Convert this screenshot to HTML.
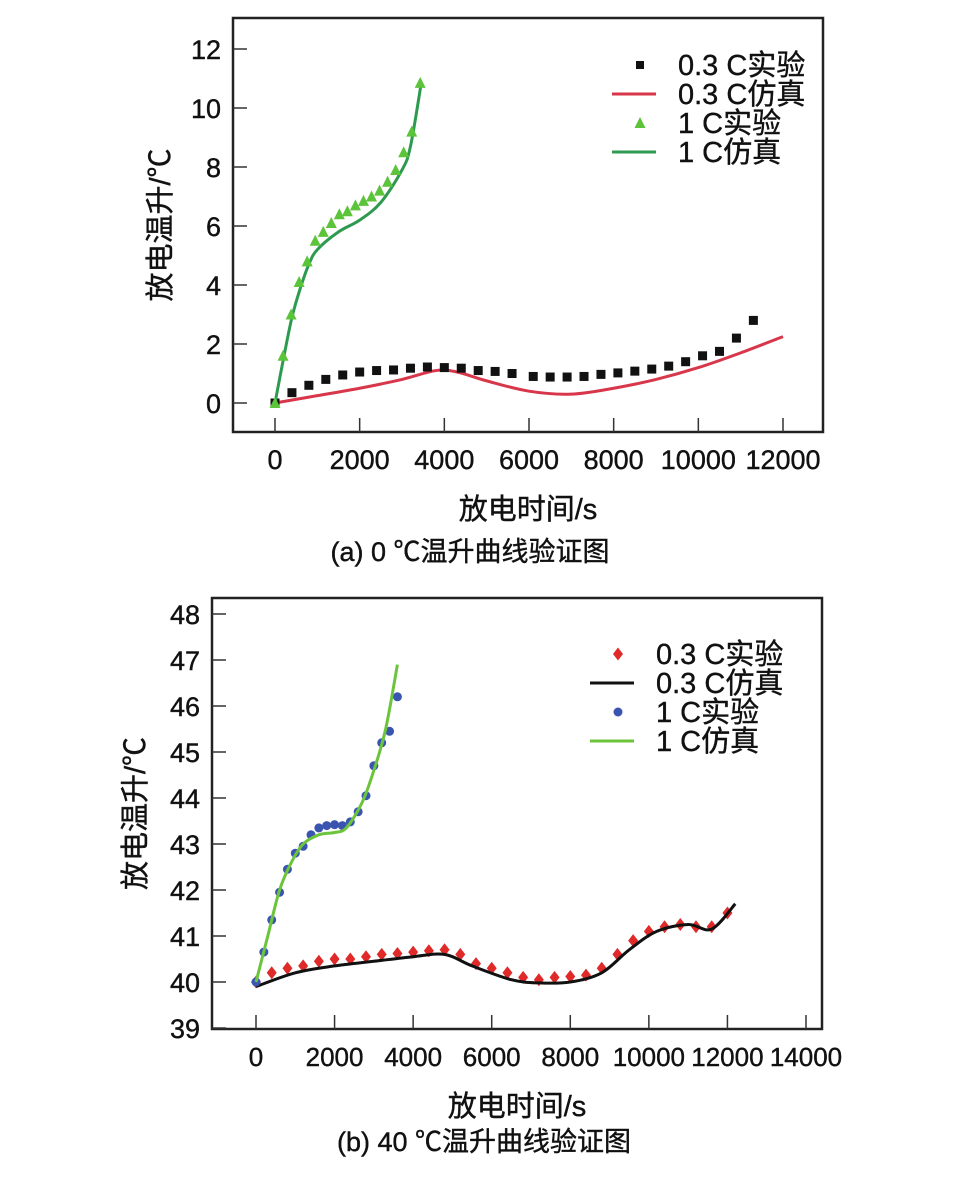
<!DOCTYPE html>
<html><head><meta charset="utf-8"><style>
body{margin:0;background:#fff;}
svg text{font-family:"Liberation Sans","Noto Sans CJK SC",sans-serif;fill:#111;stroke:#111;stroke-width:0.4;}
</style></head><body>
<svg id="s" width="971" height="1179" xmlns="http://www.w3.org/2000/svg"></svg>
<script>
// Chart (a) data
const aLowExpX=[0,400,800,1200,1600,2000,2400,2800,3200,3600,4000,4400,4800,5200,5600,6100,6500,6900,7300,7700,8100,8500,8900,9300,9700,10100,10500,10900,11300];
const aLowExpY=[0,0.35,0.6,0.8,0.95,1.05,1.1,1.12,1.18,1.22,1.2,1.18,1.1,1.07,1.0,0.9,0.88,0.88,0.9,0.97,1.02,1.08,1.15,1.25,1.4,1.6,1.75,2.2,2.8];
const aLowSimX=[0,1000,2000,3000,3800,4300,5000,6000,7000,8000,9000,10000,11000,12000];
const aLowSimY=[0,0.25,0.5,0.8,1.1,1.05,0.75,0.4,0.3,0.5,0.8,1.2,1.7,2.25];
const aHighExpX=[0,190,380,570,760,950,1140,1330,1520,1710,1900,2090,2280,2470,2660,2850,3040,3230,3430];
const aHighExpY=[0,1.6,3.0,4.1,4.8,5.5,5.8,6.1,6.4,6.5,6.7,6.85,7.0,7.2,7.5,7.9,8.5,9.2,10.85];
const aHighSimX=[0,200,400,600,800,1000,1500,2000,2500,3000,3200,3450];
const aHighSimY=[0,1.5,2.9,3.9,4.7,5.2,5.8,6.2,6.8,7.9,8.7,10.8];
const aXTicks=[0,2000,4000,6000,8000,10000,12000];
const aYTicks=[0,2,4,6,8,10,12];
// Chart (b) data
const bLowExpX=[0,400,800,1200,1600,2000,2400,2800,3200,3600,4000,4400,4800,5200,5600,6000,6400,6800,7200,7600,8000,8400,8800,9200,9600,10000,10400,10800,11200,11600,12000];
const bLowExpY=[40.0,40.2,40.3,40.35,40.45,40.5,40.5,40.55,40.6,40.62,40.65,40.68,40.7,40.6,40.4,40.3,40.2,40.1,40.05,40.1,40.12,40.15,40.3,40.6,40.9,41.1,41.2,41.25,41.2,41.2,41.5];
const bLowSimX=[0,1000,2000,3000,4000,4800,5500,6500,7200,8000,8800,9500,10200,11000,11600,12200];
const bLowSimY=[39.9,40.2,40.35,40.45,40.55,40.6,40.35,40.05,39.98,40.0,40.2,40.7,41.1,41.25,41.15,41.7];
const bHighExpX=[0,200,400,600,800,1000,1200,1400,1600,1800,2000,2200,2400,2600,2800,3000,3200,3400,3600];
const bHighExpY=[40.0,40.65,41.35,41.95,42.45,42.8,42.95,43.2,43.35,43.4,43.42,43.4,43.48,43.7,44.05,44.7,45.2,45.45,46.2];
const bHighSimX=[0,300,600,900,1200,1600,2000,2300,2700,3000,3300,3600];
const bHighSimY=[40.0,41.0,42.0,42.6,43.0,43.2,43.25,43.35,43.9,44.6,45.5,46.9];
const bXTicks=[0,2000,4000,6000,8000,10000,12000,14000];
const bYTicks=[39,40,41,42,43,44,45,46,47,48];

const NS="http://www.w3.org/2000/svg";
const svg=document.getElementById('s');
function mk(tag,attrs,parent,txt){const e=document.createElementNS(NS,tag);for(const k in attrs)e.setAttribute(k,attrs[k]);if(txt!==undefined)e.textContent=txt;(parent||svg).appendChild(e);return e;}
function smooth(pts){let d=`M${pts[0][0]},${pts[0][1]}`;for(let i=0;i<pts.length-1;i++){const p0=pts[i-1]||pts[i],p1=pts[i],p2=pts[i+1],p3=pts[i+2]||p2;const c1=[p1[0]+(p2[0]-p0[0])/6,p1[1]+(p2[1]-p0[1])/6],c2=[p2[0]-(p3[0]-p1[0])/6,p2[1]-(p3[1]-p1[1])/6];d+=` C${c1[0]},${c1[1]} ${c2[0]},${c2[1]} ${p2[0]},${p2[1]}`;}return d;}

function chart(cfg){
  const g=mk('g',{});
  
  
  const sx=v=>cfg.x0+(v-cfg.xmin)*(cfg.x1-cfg.x0)/(cfg.xmax-cfg.xmin);
  const sy=v=>cfg.y0+(v-cfg.ymin)*(cfg.y1-cfg.y0)/(cfg.ymax-cfg.ymin);
  const box=mk('rect',{x:cfg.bx,y:cfg.by,width:cfg.bw,height:cfg.bh,fill:'none',stroke:'#222','stroke-width':2.5},g);
  
  cfg.xt.forEach(v=>{
    const t=mk('line',{x1:sx(v),x2:sx(v),y1:cfg.by+cfg.bh,y2:cfg.by+cfg.bh-14,stroke:'#333','stroke-width':1.5},g);
    
    const l=mk('text',{x:sx(v),y:cfg.by+cfg.bh+37,'text-anchor':'middle','font-size':cfg.xfs},g,String(v));
    
  });
  cfg.yt.forEach(v=>{
    const t=mk('line',{x1:cfg.bx,x2:cfg.bx+14,y1:sy(v),y2:sy(v),stroke:'#333','stroke-width':1.5},g);
    
    const l=mk('text',{x:cfg.bx-12,y:sy(v)+10,'text-anchor':'end','font-size':27},g,String(v));
    
  });
  const line=(X,Y,col,nm)=>{const p=mk('path',{d:smooth(X.map((x,i)=>[sx(x),sy(Y[i])])),fill:'none',stroke:col,'stroke-width':3},g);
    };
  const marks=(X,Y,shape,col,nm)=>{X.forEach((x,i)=>{const px=sx(x),py=sy(Y[i]);let e;
    if(shape==='sq')e=mk('rect',{x:px-4.5,y:py-4.5,width:9,height:9,fill:col},g);
    else if(shape==='tri')e=mk('polygon',{points:`${px},${py-6} ${px-5.5},${py+5} ${px+5.5},${py+5}`,fill:col},g);
    else if(shape==='dia')e=mk('polygon',{points:`${px},${py-6.5} ${px+5},${py} ${px},${py+6.5} ${px-5},${py}`,fill:col},g);
    else e=mk('circle',{cx:px,cy:py,r:4.5,fill:col},g);
    });};
  cfg.draw(line,marks);
  cfg.legend.forEach((it,i)=>{const y=cfg.ly+i*cfg.lgap;
    let e;
    if(it.t==='line')e=mk('line',{x1:cfg.lx-28,x2:cfg.lx+16,y1:y,y2:y,stroke:it.c,'stroke-width':3},g);
    else if(it.t==='sq')e=mk('rect',{x:cfg.lx-4,y:y-4,width:8,height:8,fill:it.c},g);
    else if(it.t==='tri')e=mk('polygon',{points:`${cfg.lx},${y-6} ${cfg.lx-5.5},${y+5} ${cfg.lx+5.5},${y+5}`,fill:it.c},g);
    else if(it.t==='dia')e=mk('polygon',{points:`${cfg.lx},${y-6.5} ${cfg.lx+5},${y} ${cfg.lx},${y+6.5} ${cfg.lx-5},${y}`,fill:it.c},g);
    else e=mk('circle',{cx:cfg.lx,cy:y,r:4.5,fill:it.c},g);
    
    const tx=mk('text',{x:cfg.lx+cfg.ltx,y:y+10,'font-size':29},g,it.s);
    
  });
  const xt=mk('text',{x:(cfg.bx+cfg.bx+cfg.bw)/2,y:cfg.by+cfg.bh+87,'text-anchor':'middle','font-size':29},g,'放电时间/s');
  
  const yt=mk('text',{x:0,y:0,'text-anchor':'middle','font-size':29,transform:`translate(${cfg.ytx},${cfg.by+cfg.bh/2}) rotate(-90)`},g,'放电温升/℃');
  
  const cap=mk('text',{x:cfg.capx,y:cfg.capy,'text-anchor':'middle','font-size':27},g,cfg.cap);
  
}
chart({name:'chart-0c',bx:233,by:18,bw:590,bh:414,xmin:0,xmax:12000,x0:275,x1:783,ymin:0,ymax:12,y0:403,y1:49,xt:aXTicks,yt:aYTicks,xfs:27,
  lx:640,ly:65,lgap:29,ltx:38,ytx:170,capx:470,capy:561,cap:'(a) 0 ℃温升曲线验证图',
  legend:[{t:'sq',c:'#111',s:'0.3 C实验'},{t:'line',c:'#d8364a',s:'0.3 C仿真'},{t:'tri',c:'#5cc43a',s:'1 C实验'},{t:'line',c:'#2e9a50',s:'1 C仿真'}],
  draw:(line,marks)=>{line(aLowSimX,aLowSimY,'#d8364a','sim-0.3c');marks(aLowExpX,aLowExpY,'sq','#111','exp-0.3c-point');
    line(aHighSimX,aHighSimY,'#2e9a50','sim-1c');marks(aHighExpX,aHighExpY,'tri','#5cc43a','exp-1c-point');}});
chart({name:'chart-40c',bx:212,by:598,bw:610,bh:431,xmin:0,xmax:14000,x0:256,x1:806,ymin:39,ymax:48,y0:1028,y1:614,xt:bXTicks,yt:bYTicks,xfs:26,
  lx:618,ly:654,lgap:29,ltx:38,ytx:145,capx:484,capy:1151,cap:'(b) 40 ℃温升曲线验证图',
  legend:[{t:'dia',c:'#e02a2a',s:'0.3 C实验'},{t:'line',c:'#111',s:'0.3 C仿真'},{t:'dot',c:'#3a55b0',s:'1 C实验'},{t:'line',c:'#6cc43c',s:'1 C仿真'}],
  draw:(line,marks)=>{marks(bLowExpX,bLowExpY,'dia','#e02a2a','exp-0.3c-point');line(bLowSimX,bLowSimY,'#111','sim-0.3c');
    marks(bHighExpX,bHighExpY,'dot','#3a55b0','exp-1c-point');line(bHighSimX,bHighSimY,'#6cc43c','sim-1c');}});
</script>
</body></html>
